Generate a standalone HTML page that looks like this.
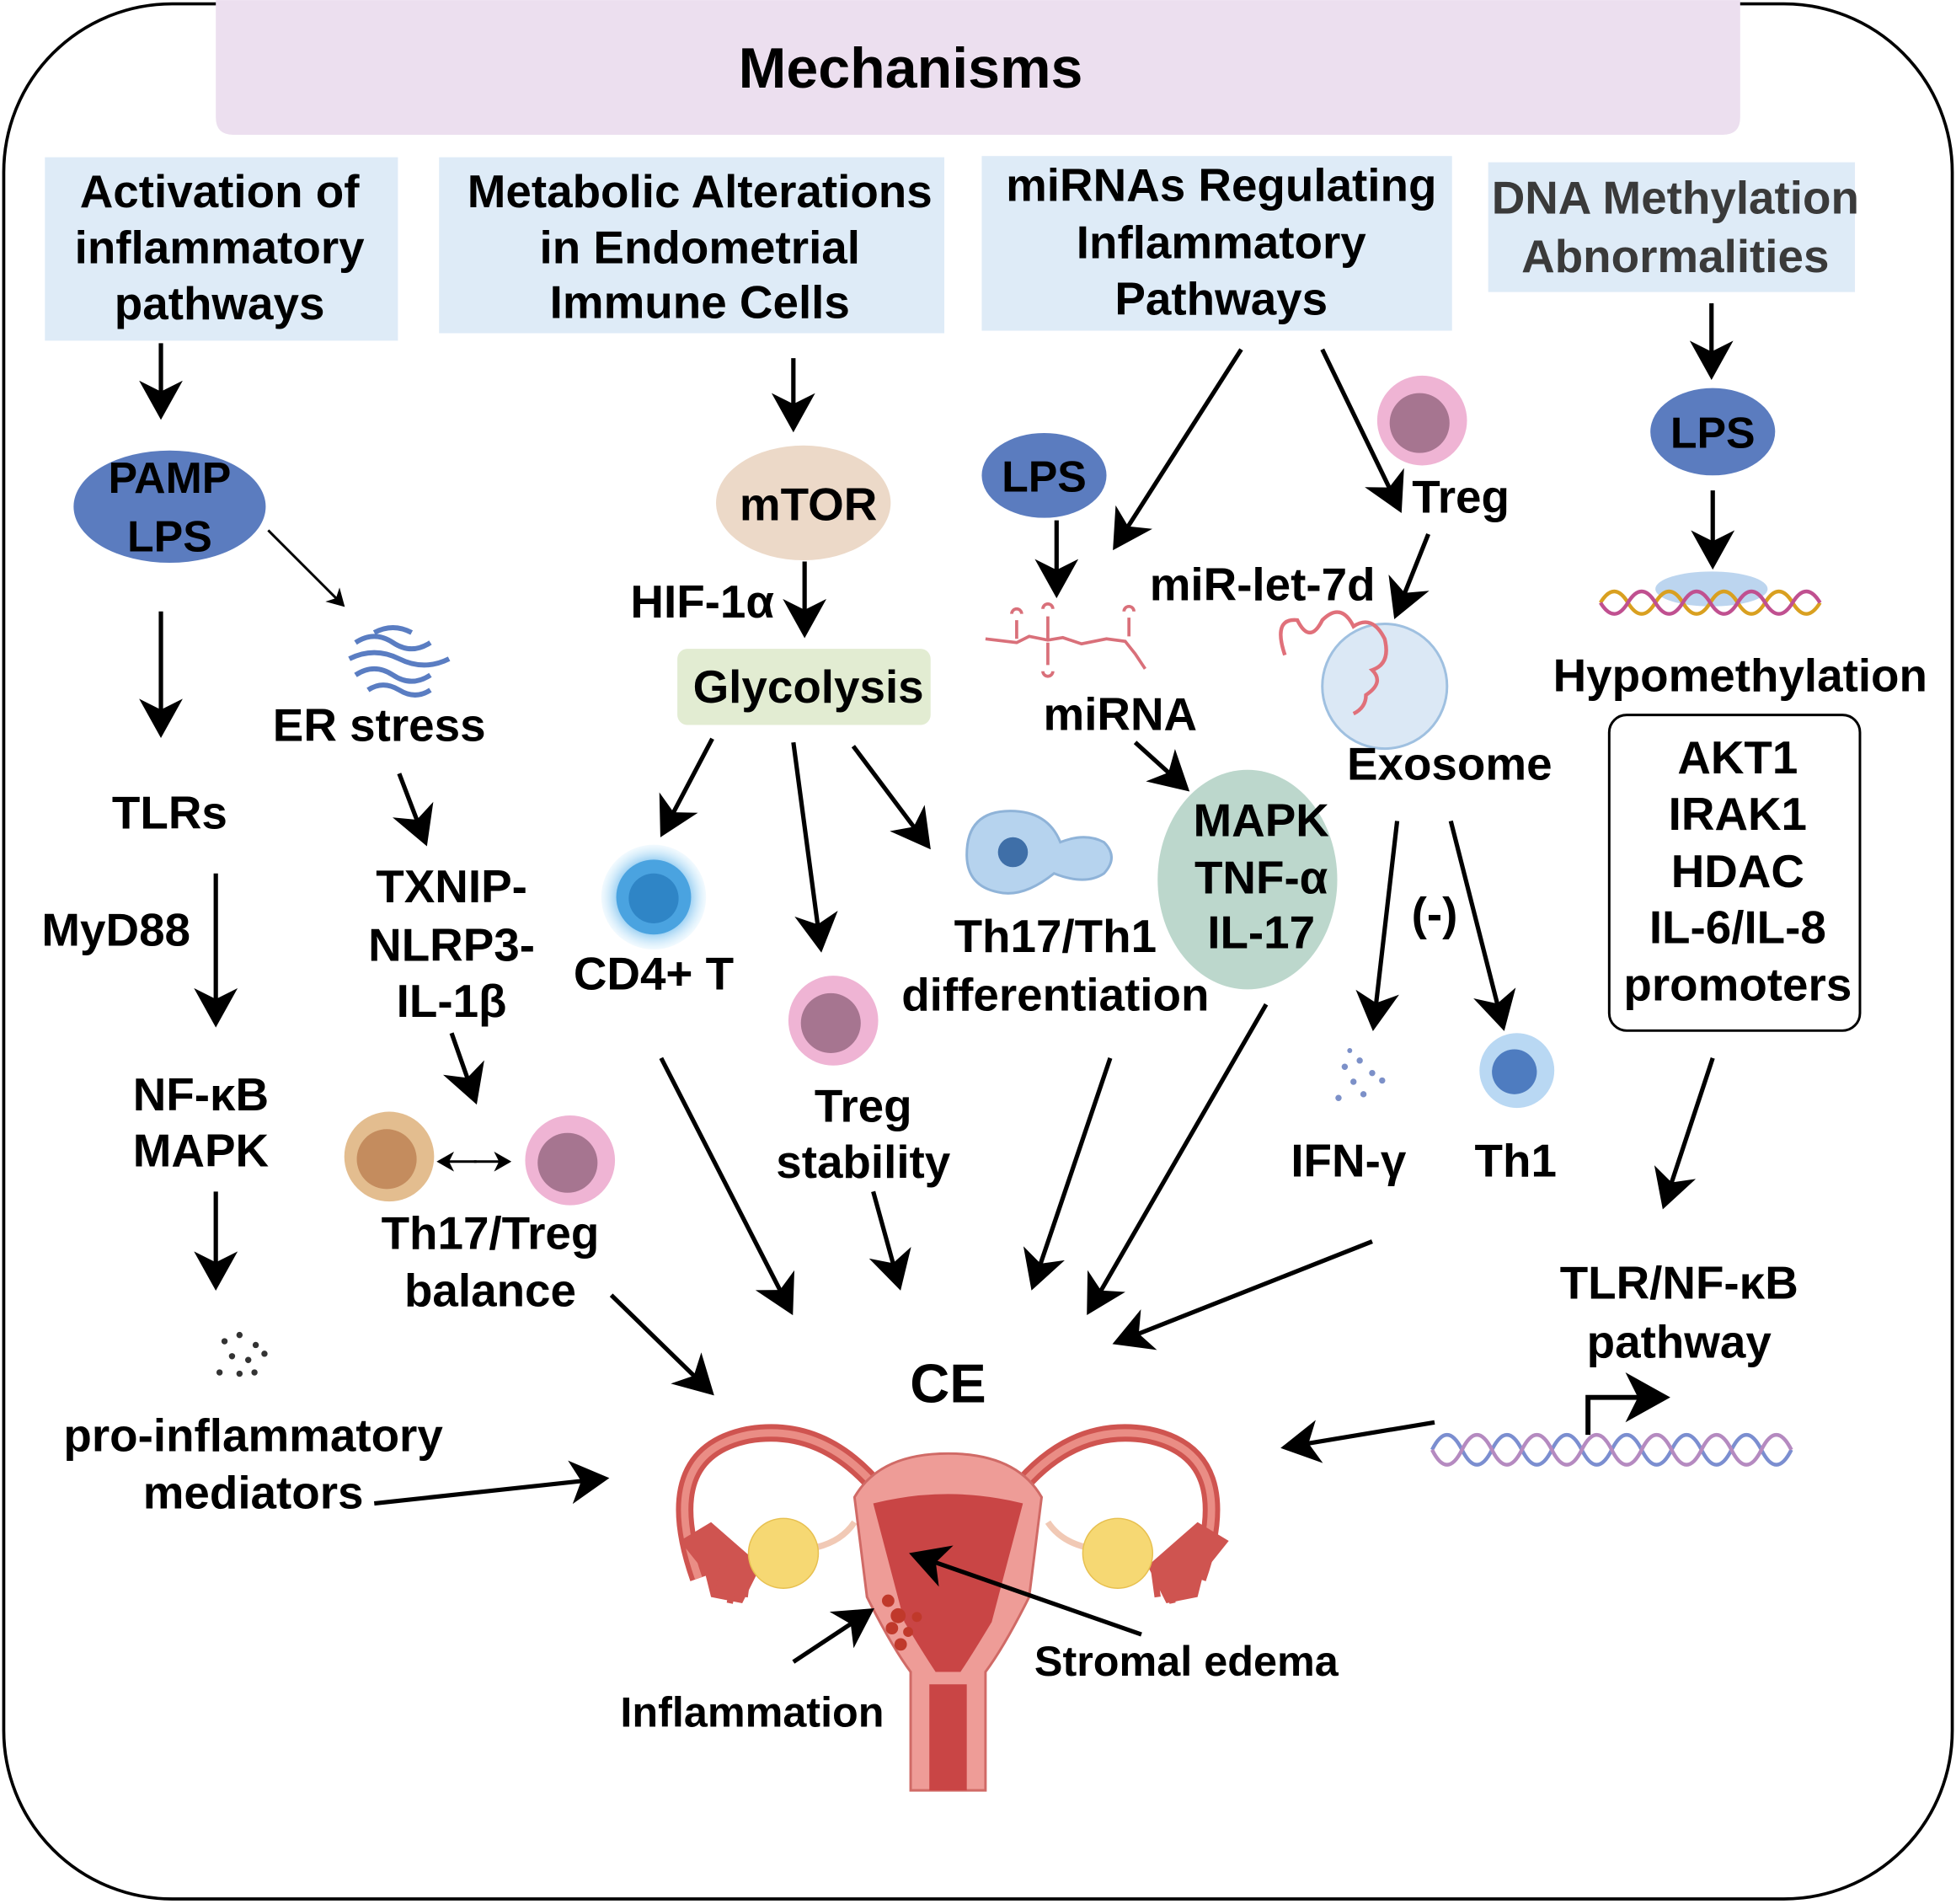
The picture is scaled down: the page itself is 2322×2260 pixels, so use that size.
<!DOCTYPE html>
<html><head><meta charset="utf-8"><style>
html,body{margin:0;padding:0;background:#fff;}
svg{display:block;}
text{font-family:"Liberation Sans",Arial,sans-serif;font-weight:bold;fill:#000;text-anchor:middle;}
</style></head><body>
<svg width="2322" height="2260" viewBox="0 0 1568 1526" xmlns="http://www.w3.org/2000/svg">
<defs>
<marker id="a" markerWidth="10" markerHeight="10" refX="8" refY="5" orient="auto" markerUnits="strokeWidth">
<path d="M0,0 L9,5 L0,10 L2.5,5 Z" fill="#000"/></marker>
<marker id="b" markerWidth="8" markerHeight="8" refX="6" refY="4" orient="auto" markerUnits="strokeWidth">
<path d="M0,0 L7,4 L0,8 L2,4 Z" fill="#000"/></marker>
<radialGradient id="cd4" cx="50%" cy="50%" r="50%"><stop offset="55%" stop-color="#5aaee8"/><stop offset="100%" stop-color="#bfe6fb" stop-opacity="0.2"/></radialGradient>
</defs>
<rect x="3" y="3" width="1562" height="1519" rx="135" fill="#fff" stroke="#000" stroke-width="2.5"/>
<path d="M173,0 H1395 V94 Q1395,108 1381,108 H187 Q173,108 173,94 Z" fill="#ecdfef"/>
<text x="730" y="70" font-size="46">Mechanisms</text>

<g font-size="37">
<rect x="36" y="126" width="283" height="147" fill="#deebf7"/>
<text x="176" y="166">Activation of</text><text x="176" y="211">inflammatory</text><text x="176" y="256">pathways</text>
<rect x="352" y="126" width="405" height="141" fill="#deebf7"/>
<text x="561" y="166">Metabolic Alterations</text><text x="561" y="211">in Endometrial</text><text x="561" y="255">Immune Cells</text>
<rect x="787" y="125" width="377" height="140" fill="#deebf7"/>
<text x="979" y="161">miRNAs Regulating</text><text x="979" y="207">Inflammatory</text><text x="979" y="252">Pathways</text>
<rect x="1193" y="130" width="294" height="104" fill="#deebf7"/>
<text x="1343" y="171" style="fill:#3a3a3a">DNA Methylation</text><text x="1343" y="218" style="fill:#3a3a3a">Abnormalities</text>
</g>

<!-- center uterus (drawn before arrows) -->
<g>
<path d="M560,1265 q-35,-100 40,-115 q60,-10 105,45 l55,15 l55,-15 q45,-55 105,-45 q75,15 40,115" fill="none" stroke="#cf5450" stroke-width="14"/>
<path d="M560,1265 q-35,-100 40,-115 q60,-10 105,45 l55,15 l55,-15 q45,-55 105,-45 q75,15 40,115" fill="none" stroke="#ea8d85" stroke-width="6"/>
<path d="M545,1235 l25,-15 l40,35 l-15,30 l-25,-5 l-5,-20z" fill="#cf5450"/>
<path d="M575,1280 l5,-25 M585,1285 l5,-25 M597,1280 l3,-22" stroke="#cf5450" stroke-width="5"/>
<path d="M985,1235 l-25,-15 l-40,35 l15,30 l25,-5 l5,-20z" fill="#cf5450"/>
<path d="M950,1280 l-5,-25 M940,1285 l-5,-25 M928,1280 l-3,-22" stroke="#cf5450" stroke-width="5"/>
<path d="M655,1240 q20,-5 30,-20 M870,1240 q-20,-5 -30,-20" stroke="#f1c9b5" stroke-width="5" fill="none"/>
<circle cx="628" cy="1245" r="28" fill="#f6d873" stroke="#e7c050"/>
<circle cx="896" cy="1245" r="28" fill="#f6d873" stroke="#e7c050"/>
<path d="M685,1200 q20,-35 75,-35 q55,0 75,35 l-10,80 q-20,40 -35,60 v95 h-60 v-95 q-15,-20 -35,-60 z" fill="#ee9c97" stroke="#d06a66" stroke-width="2"/>
<path d="M700,1205 q60,-15 120,0 l-25,95 q-15,25 -25,40 h-20 q-10,-15 -25,-40z" fill="#c94545"/>
<path d="M745,1350 h30 v85 h-30z" fill="#c94545"/>
<g fill="#c0392b"><circle cx="712" cy="1283" r="5"/><circle cx="720" cy="1295" r="6"/><circle cx="715" cy="1305" r="5"/><circle cx="728" cy="1308" r="4"/><circle cx="722" cy="1318" r="5"/><circle cx="735" cy="1296" r="4"/></g>
</g>

<g stroke="#000" stroke-width="3.5" fill="none" marker-end="url(#a)">
<line x1="129" y1="275" x2="129" y2="333"/>
<line x1="129" y1="490" x2="129" y2="588"/>
<line x1="173" y1="700" x2="173" y2="820"/>
<line x1="173" y1="955" x2="173" y2="1031"/>
<line x1="300" y1="1205" x2="485" y2="1185"/>
<line x1="320" y1="620" x2="341" y2="675"/>
<line x1="362" y1="828" x2="381" y2="882"/>
<line x1="490" y1="1038" x2="570" y2="1116"/>
<line x1="636" y1="287" x2="636" y2="343"/>
<line x1="645" y1="450" x2="645" y2="508"/>
<line x1="571" y1="592" x2="531" y2="668"/>
<line x1="636" y1="595" x2="658" y2="760"/>
<line x1="684" y1="598" x2="744" y2="678"/>
<line x1="530" y1="848" x2="634" y2="1051"/>
<line x1="700" y1="955" x2="721" y2="1031"/>
<line x1="890" y1="848" x2="828" y2="1031"/>
<line x1="995" y1="280" x2="894" y2="438"/>
<line x1="1060" y1="280" x2="1122" y2="408"/>
<line x1="847" y1="417" x2="847" y2="476"/>
<line x1="1145" y1="428" x2="1119" y2="493"/>
<line x1="910" y1="595" x2="951" y2="632"/>
<line x1="1120" y1="658" x2="1101" y2="823"/>
<line x1="1163" y1="658" x2="1205" y2="823"/>
<line x1="1015" y1="805" x2="873" y2="1051"/>
<line x1="1100" y1="995" x2="895" y2="1076"/>
<line x1="1372" y1="243" x2="1372" y2="301"/>
<line x1="1373" y1="393" x2="1373" y2="453"/>
<line x1="1373" y1="848" x2="1334" y2="966"/>
<line x1="1150" y1="1140" x2="1030" y2="1160"/>
<line x1="915" y1="1310" x2="732" y2="1246"/>
<line x1="636" y1="1332" x2="698" y2="1291"/>
</g>
<g stroke="#000" stroke-width="2" marker-end="url(#b)">
<line x1="215" y1="425" x2="275" y2="485"/>
<line x1="380" y1="931" x2="408" y2="931"/>
<line x1="382" y1="931" x2="352" y2="931"/>
</g>

<!-- column 1 -->
<ellipse cx="136" cy="406" rx="77" ry="45" fill="#5b7cbf"/>
<text x="136" y="395" font-size="35">PAMP</text><text x="136" y="442" font-size="35">LPS</text>
<g stroke="#5a7dc2" stroke-width="4" fill="none">
<path d="M285,515 q15,-10 30,0 t30,0"/><path d="M280,528 q20,-10 40,0 t40,0"/><path d="M285,541 q15,-10 30,0 t30,0"/><path d="M295,553 q12,-8 25,0 t25,0"/><path d="M300,507 q15,-8 30,0"/>
</g>
<g font-size="37">
<text x="304" y="594">ER stress</text>
<text x="136" y="664">TLRs</text>
<text x="93" y="758">MyD88</text>
<text x="161" y="890">NF-κB</text><text x="161" y="935">MAPK</text>
<text x="203" y="1163">pro-inflammatory</text><text x="203" y="1209">mediators</text>
<text x="362" y="723">TXNIP-</text><text x="362" y="770">NLRP3-</text><text x="362" y="815">IL-1β</text>
<text x="393" y="1001">Th17/Treg</text><text x="393" y="1047">balance</text>
</g>
<g fill="#333"><circle cx="180" cy="1075" r="2.5"/><circle cx="192" cy="1070" r="2.5"/><circle cx="205" cy="1078" r="2.5"/><circle cx="186" cy="1087" r="2.5"/><circle cx="199" cy="1090" r="2.5"/><circle cx="212" cy="1085" r="2.5"/><circle cx="176" cy="1100" r="2.5"/><circle cx="192" cy="1101" r="2.5"/><circle cx="204" cy="1100" r="2.5"/></g>
<circle cx="312" cy="927" r="36" fill="#e3bd8f"/><circle cx="310" cy="929" r="24" fill="#c48c5e"/>
<circle cx="457" cy="930" r="36" fill="#efb4d4"/><circle cx="455" cy="932" r="24" fill="#a67590"/>

<!-- column 2 -->
<ellipse cx="644" cy="403" rx="70" ry="46" fill="#ecd9c8"/>
<text x="648" y="417" font-size="37">mTOR</text>
<text x="563" y="495" font-size="37">HIF-1α</text>
<rect x="543" y="520" width="203" height="61" rx="8" fill="#e2ecd2"/>
<text x="648" y="563" font-size="37">Glycolysis</text>
<circle cx="524" cy="719" r="42" fill="url(#cd4)"/><circle cx="524" cy="719" r="30" fill="#4aa3e0"/><circle cx="524" cy="720" r="20" fill="#2f85c6"/>
<text x="524" y="793" font-size="37">CD4+ T</text>
<path d="M775,685 q0,-35 35,-35 q30,0 40,25 q20,-8 35,0 q12,12 0,25 q-15,10 -40,0 q-25,20 -45,15 q-25,-5 -25,-30z" fill="#b6d3ee" stroke="#8fb3d8" stroke-width="2"/>
<circle cx="812" cy="683" r="12" fill="#3f6fa8"/>
<text x="846" y="763" font-size="37">Th17/Th1</text><text x="846" y="810" font-size="37">differentiation</text>
<circle cx="668" cy="818" r="36" fill="#efb4d4"/><circle cx="666" cy="820" r="24" fill="#a67590"/>
<text x="692" y="899" font-size="37">Treg</text><text x="692" y="944" font-size="37">stability</text>

<!-- column 3 -->
<ellipse cx="837" cy="381" rx="50" ry="34" fill="#5b7cbf"/>
<text x="837" y="394" font-size="35">LPS</text>
<circle cx="1140" cy="337" r="36" fill="#efb4d4"/><circle cx="1138" cy="339" r="24" fill="#a67590"/>
<text x="1171" y="411" font-size="37">Treg</text>
<text x="1012" y="481" font-size="37">miR-let-7d</text>
<g stroke="#d9707a" stroke-width="2.5" fill="none">
<path d="M790,512 l25,3 l10,-5 l15,3 l12,-2 l15,5 l20,-4 l15,2 l8,10 l8,12"/>
<path d="M815,512 v-15 m-4,-5 a4,4 0 1 1 8,0 M840,512 v-18 m-4,-6 a4,4 0 1 1 8,0 M840,515 v18 m-4,5 a4,4 0 1 0 8,0 M905,510 v-15 m-4,-5 a4,4 0 1 1 8,0"/>
</g>
<text x="898" y="585" font-size="37">miRNA</text>
<circle cx="1110" cy="550" r="50" fill="#dbe8f5" stroke="#9fc0e0" stroke-width="2"/>
<path d="M1030,525 q-10,-30 10,-28 q10,20 20,0 q15,-15 25,5 q15,-10 25,10 q5,20 -10,25 q10,10 -5,20 q0,10 -10,15" stroke="#e0707a" stroke-width="3" fill="none"/>
<text x="1162" y="625" font-size="37">Exosome</text>
<ellipse cx="1000" cy="705" rx="72" ry="88" fill="#bcd7cc"/>
<text x="1011" y="670" font-size="37">MAPK</text><text x="1011" y="716" font-size="37">TNF-α</text><text x="1011" y="760" font-size="37">IL-17</text>
<text x="1150" y="745" font-size="37">(-)</text>
<g fill="#7c90c8"><circle cx="1078" cy="855" r="2.5"/><circle cx="1090" cy="850" r="2.5"/><circle cx="1100" cy="860" r="2.5"/><circle cx="1085" cy="867" r="2.5"/><circle cx="1108" cy="866" r="2.5"/><circle cx="1073" cy="880" r="2.5"/><circle cx="1093" cy="877" r="2.5"/><circle cx="1082" cy="842" r="2"/></g>
<text x="1081" y="943" font-size="37">IFN-γ</text>
<circle cx="1216" cy="858" r="30" fill="#b9d8f3"/><circle cx="1214" cy="859" r="18" fill="#4e7cc0"/>
<text x="1215" y="943" font-size="37">Th1</text>

<!-- column 4 -->
<ellipse cx="1373" cy="346" rx="50" ry="35" fill="#5b7cbf"/>
<text x="1373" y="359" font-size="35">LPS</text>
<ellipse cx="1372" cy="472" rx="45" ry="14" fill="#9fc3e8" opacity="0.7"/>
<g stroke-width="3" fill="none">
<path d="M1283,483 q11,-18 22,0 t22,0 t22,0 t22,0 t22,0 t22,0 t22,0 t22,0" stroke="#d9a020"/>
<path d="M1283,483 q11,18 22,0 t22,0 t22,0 t22,0 t22,0 t22,0 t22,0 t22,0" stroke="#c05090"/>
</g>
<text x="1395" y="554" font-size="37">Hypomethylation</text>
<rect x="1290" y="573" width="201" height="253" rx="14" fill="#fff" stroke="#000" stroke-width="2"/>
<g font-size="37"><text x="1393" y="620">AKT1</text><text x="1393" y="665">IRAK1</text><text x="1393" y="711">HDAC</text><text x="1393" y="756">IL-6/IL-8</text><text x="1393" y="802">promoters</text>
<text x="1346" y="1041">TLR/NF-κB</text><text x="1346" y="1088">pathway</text></g>
<g stroke-width="3" fill="none">
<path d="M1148,1162 q12,-24 24,0 t24,0 t24,0 t24,0 t24,0 t24,0 t24,0 t24,0 t24,0 t24,0 t24,0 t24,0" stroke="#7b8ed0"/>
<path d="M1148,1162 q12,24 24,0 t24,0 t24,0 t24,0 t24,0 t24,0 t24,0 t24,0 t24,0 t24,0 t24,0 t24,0" stroke="#b58ac0"/>
</g>
<path d="M1273,1150 V1120 H1335" stroke="#000" stroke-width="4" fill="none" marker-end="url(#a)"/>

<text x="760" y="1124" font-size="44">CE</text>
<text x="951" y="1343" font-size="34">Stromal edema</text>
<text x="603" y="1384" font-size="34">Inflammation</text>
</svg>
</body></html>
